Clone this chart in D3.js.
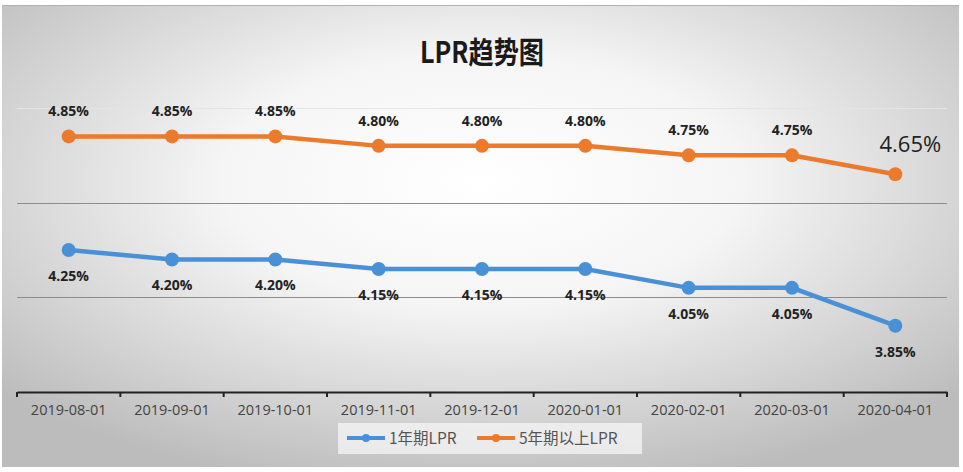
<!DOCTYPE html>
<html><head><meta charset="utf-8">
<script src="https://cdn.jsdelivr.net/npm/d3@7/dist/d3.min.js"></script>
<style>html,body{margin:0;padding:0;background:#fff;}svg{display:block;}</style>
</head><body>
<script>
const categories = ["2019-08-01","2019-09-01","2019-10-01","2019-11-01","2019-12-01","2020-01-01","2020-02-01","2020-03-01","2020-04-01"];
const lpr1y = [4.25,4.20,4.20,4.15,4.15,4.15,4.05,4.05,3.85];
const lpr5y = [4.85,4.85,4.85,4.80,4.80,4.80,4.75,4.75,4.65];
const gridValues = [4.0,4.5,5.0];
const seriesNames = ["1年期LPR","5年期以上LPR"];
const titleText = "LPR趋势图";

const W=963,H=472;
const svg=d3.select("body").append("svg").attr("width",W).attr("height",H);
const defs=svg.append("defs");
const rg=defs.append("radialGradient").attr("id","bg").attr("cx","50%").attr("cy","38%").attr("r","68%")
  .attr("gradientUnits","objectBoundingBox");
rg.append("stop").attr("offset","0%").attr("stop-color","#ffffff");
rg.append("stop").attr("offset","40%").attr("stop-color","#f5f5f5");
rg.append("stop").attr("offset","100%").attr("stop-color","#bcbcbc");
svg.append("rect").attr("x",2).attr("y",5).attr("width",957).attr("height",462).attr("fill","url(#bg)");
svg.append("line").attr("x1",2).attr("x2",959).attr("y1",5.5).attr("y2",5.5).attr("stroke","#b0b0b0").attr("stroke-width",1);

const x=d3.scaleBand().domain(categories).range([17,947]).paddingInner(0).paddingOuter(0);
const y=d3.scaleLinear().domain([3.5,5.0]).range([392,108]);
const cx=d=>x(d)+x.bandwidth()/2;

// gridlines
svg.append("g").selectAll("line").data(gridValues).join("line")
  .attr("x1",17).attr("x2",947).attr("y1",d=>Math.round(y(d))+0.5).attr("y2",d=>Math.round(y(d))+0.5)
  .attr("stroke",d=>d===5.0?"#e4e4e4":"#8c8c8c").attr("stroke-width",1);

// x axis
const ax=svg.append("g").attr("transform",`translate(0,${y(3.5)})`)
  .call(d3.axisBottom(x).tickSize(0).tickPadding(13));
ax.select(".domain").attr("stroke","#222").attr("stroke-width",2);
ax.selectAll("text").attr("font-family","'Open Sans','Noto Sans',sans-serif").attr("font-size",14.5).attr("fill","#444");
const tickPos=categories.map(c=>x(c)).concat([x(categories[categories.length-1])+x.bandwidth()]);
ax.append("g").selectAll("line").data(tickPos).join("line")
  .attr("x1",d=>d).attr("x2",d=>d).attr("y1",0).attr("y2",5).attr("stroke","#222").attr("stroke-width",2);

// title
svg.append("text").attr("x",482).attr("y",63).attr("text-anchor","middle")
  .attr("font-family","'Noto Sans CJK SC',sans-serif").attr("font-weight","bold").attr("font-size",30)
  .attr("fill","#1a1a1a").attr("textLength",124).attr("lengthAdjust","spacingAndGlyphs").text(titleText);

const colors=["#4a90d6","#ec7a2c"];
const series=[lpr1y,lpr5y];
const line=d3.line().x((d,i)=>cx(categories[i])).y(d=>y(d));
series.forEach((s,k)=>{
  svg.append("path").datum(s).attr("d",line).attr("fill","none").attr("stroke",colors[k]).attr("stroke-width",4.5);
  svg.append("g").selectAll("circle").data(s).join("circle")
    .attr("cx",(d,i)=>cx(categories[i])).attr("cy",d=>y(d)).attr("r",7).attr("fill",colors[k]);
});

// labels
const lblFont="'Open Sans','Noto Sans',sans-serif";
svg.append("g").selectAll("text").data(lpr5y).join("text")
  .attr("x",(d,i)=>i===8?cx(categories[i])+15:cx(categories[i]))
  .attr("y",(d,i)=>i===8?y(d)-22:y(d)-20)
  .attr("text-anchor","middle").attr("font-family",lblFont)
  .attr("font-weight",(d,i)=>i===8?"normal":"bold")
  .attr("font-size",(d,i)=>i===8?22:14).attr("fill","#222")
  .text(d=>d.toFixed(2)+"%");
svg.append("g").selectAll("text").data(lpr1y).join("text")
  .attr("x",(d,i)=>cx(categories[i])).attr("y",d=>y(d)+31)
  .attr("text-anchor","middle").attr("font-family",lblFont).attr("font-weight","bold")
  .attr("font-size",14).attr("fill","#222").text(d=>d.toFixed(2)+"%");

// legend
const lg=svg.append("g");
lg.append("rect").attr("x",338).attr("y",423).attr("width",304).attr("height",31).attr("fill","#f6f6f6").attr("opacity",0.75);
const legX=[347,477];
seriesNames.forEach((n,k)=>{
  const g=lg.append("g").attr("transform",`translate(${legX[k]},438)`);
  g.append("line").attr("x1",0).attr("x2",38).attr("stroke",colors[k]).attr("stroke-width",4);
  g.append("circle").attr("cx",19).attr("r",4).attr("fill",colors[k]);
  g.append("text").attr("x",42).attr("y",6).attr("font-family","'Noto Sans CJK SC',sans-serif")
    .attr("font-size",15.5).attr("fill","#555").text(n);
});
</script>
</body></html>
